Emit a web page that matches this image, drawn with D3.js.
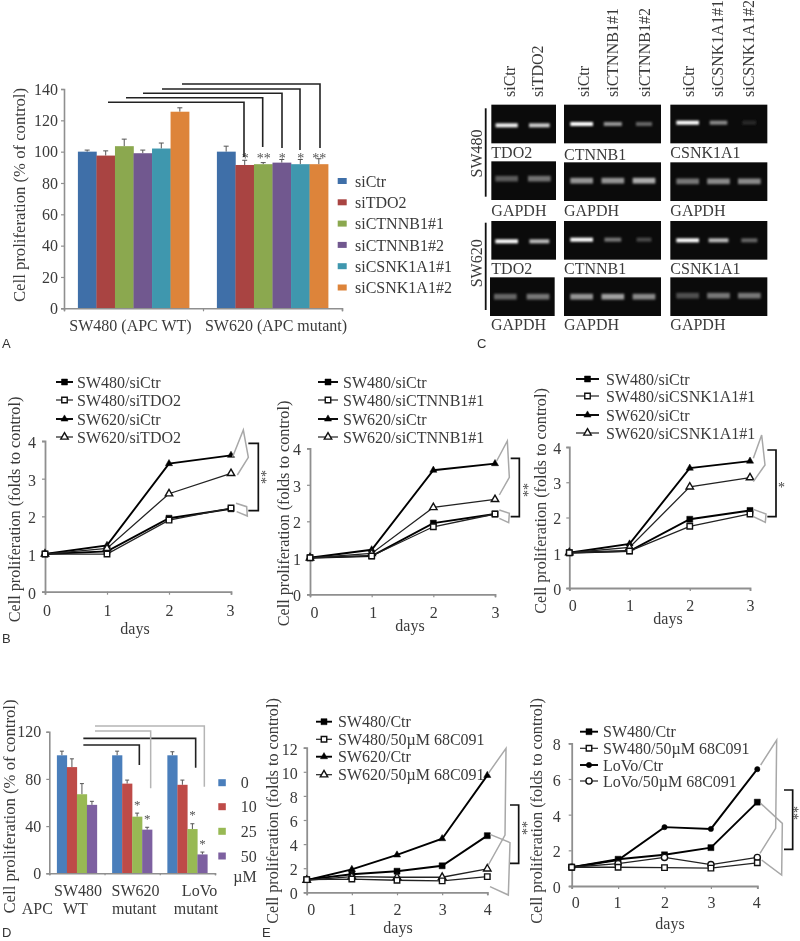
<!DOCTYPE html>
<html><head><meta charset="utf-8">
<script src="https://cdn.jsdelivr.net/npm/d3@7"></script>
<style>
html,body{margin:0;padding:0;background:#fff}
svg{display:block;opacity:.999}
text{font-family:"Liberation Serif",serif;fill:#3a3a3a;font-size:16px}
</style></head><body>
<svg id="c" width="800" height="941" viewBox="0 0 800 941"></svg>
<script>
// ---------- DATA ----------
const aGroups = ["SW480 (APC WT)", "SW620 (APC mutant)"];
const aSeries = ["siCtr","siTDO2","siCTNNB1#1","siCTNNB1#2","siCSNK1A1#1","siCSNK1A1#2"];
const aSW480 = [100,97.5,103.5,99,102,125.5];
const aSW620 = [100,91.5,92,93,92,92];
const aSW480Top = [101,100.5,108,101,105.5,128];
const aSW620Top = [103.5,94.5,93,95,95,95.5];
const aStars = ["","*","**","*","*","**"];
const aTicks = [0,20,40,60,80,100,120,140];

const dGroups = ["SW480","SW620","LoVo"];
const dDoses = ["0","10","25","50"];
const dSW480 = [100,90,67,58];
const dSW620 = [100,76,48,37];
const dLoVo = [100,75,37.5,16];
const dSW480Top = [103.5,97,76,61];
const dSW620Top = [103.5,79,51,39];
const dLoVoTop = [103,79,42,18];
const dStars = ["","","*","*"];
const dTicks = [0,40,80,120];

const days3 = [0,1,2,3];
const days4 = [0,1,2,3,4];
const b1a = [1,1.07,1.95,2.2], b1b = [1,1.0,1.9,2.22], b1c = [1,1.23,3.4,3.62], b1d = [1,1.15,2.6,3.14];
const b2a = [1,1.05,1.95,2.2], b2b = [1,1.05,1.85,2.2], b2c = [1,1.22,3.4,3.58], b2d = [1,1.12,2.38,2.6];
const b3a = [1,1.05,1.95,2.2], b3b = [1,1.05,1.75,2.1], b3c = [1,1.25,3.4,3.6], b3d = [1,1.15,2.87,3.13];
const e1a = [1.05,1.5,1.75,2.2,4.7], e1b = [1.05,1.1,1.0,0.95,1.3], e1c = [1,1.9,3.1,4.45,9.7], e1d = [1,1.3,1.25,1.25,1.95];
const e2a = [1.05,1.5,1.75,2.15,4.7], e2b = [1.05,1.05,1.03,1.0,1.3], e2c = [1.05,1.45,3.3,3.2,6.55], e2d = [1.05,1.25,1.6,1.2,1.6];
const b1Names = ["SW480/siCtr","SW480/siTDO2","SW620/siCtr","SW620/siTDO2"];
const b2Names = ["SW480/siCtr","SW480/siCTNNB1#1","SW620/siCtr","SW620/siCTNNB1#1"];
const b3Names = ["SW480/siCtr","SW480/siCSNK1A1#1","SW620/siCtr","SW620/siCSNK1A1#1"];
const e1Names = ["SW480/Ctr","SW480/50µM 68C091","SW620/Ctr","SW620/50µM 68C091"];
const e2Names = ["SW480/Ctr","SW480/50µM 68C091","LoVo/Ctr","LoVo/50µM 68C091"];

const gelLaneLabels = [["siCtr","siTDO2"],["siCtr","siCTNNB1#1","siCTNNB1#2"],["siCtr","siCSNK1A1#1","siCSNK1A1#2"]];
const gelTargets = ["TDO2","CTNNB1","CSNK1A1"];
const gelCells = ["SW480","SW620"];
const gelIntensity = [
  [[.95,.8],[1,.55,.35],[1,.5,.1]],
  [[.3,.4],[.55,.55,.65],[.42,.5,.5]],
  [[1,.72],[1,.42,.22],[1,.72,.35]],
  [[.35,.42],[.55,.6,.5],[.25,.42,.42]]
];

// ---------- STYLE / LAYOUT ----------
const svg = d3.select("#c");
const Z = (ox,oy,pts)=>pts.map(p=>[ox+p[0]/3,oy+p[1]/3]);
const axisGray="#8f8f8f";
const aColors=["#3f6fa8","#a94442","#8ba84f","#71588f","#3f97ae","#dd843a"];
const dColors=["#4a7ebb","#be4b48","#98b954","#7d60a0"];
const defs=svg.append("defs");
defs.append("filter").attr("id","blur").attr("x","-30%").attr("y","-200%").attr("width","160%").attr("height","500%")
  .append("feGaussianBlur").attr("stdDeviation","1.1 0.9");

function txt(x,y,s,o={}){
  const t=svg.append("text").attr("x",x).attr("y",y).attr("dy",o.dy||".35em").text(s);
  if(o.anchor)t.attr("text-anchor",o.anchor);
  if(o.rot)t.attr("transform",`rotate(${o.rot} ${x} ${y})`);
  if(o.size)t.style("font-size",o.size+"px");
  if(o.fill)t.style("fill",o.fill);
  if(o.font)t.style("font-family",o.font);
  return t;
}
function poly(pts,color,w){
  svg.append("path").attr("d",d3.line()(pts)).attr("fill","none").attr("stroke",color).attr("stroke-width",w);
}
function styleAxis(g,w=1.6){
  g.selectAll("path.domain").attr("stroke",axisGray).attr("stroke-width",w);
  g.selectAll("line").attr("stroke",axisGray).attr("stroke-width",1.2);
  g.selectAll("text").style("font-size","16px");
}
function panelLetter(x,y,s){txt(x,y,s,{font:'"Liberation Sans",sans-serif',size:13,fill:"#333"});}

// ---------- PANEL A ----------
(function(){
  const y=d3.scaleLinear().domain([0,140]).range([308.3,89]);
  const x=d3.scaleBand().domain(aGroups).range([64,342]).paddingInner(.2).paddingOuter(.1);
  const xi=d3.scaleBand().domain(aSeries).range([0,x.bandwidth()]);
  const groups=[[aSW480,aSW480Top],[aSW620,aSW620Top]];
  groups.forEach((g,gi)=>{
    const x0=x(aGroups[gi]);
    aSeries.forEach((s,i)=>{
      const bx=x0+xi(s);
      svg.append("line").attr("x1",bx+xi.bandwidth()/2).attr("x2",bx+xi.bandwidth()/2).attr("y1",y(g[0][i])).attr("y2",y(g[1][i])).attr("stroke","#555").attr("stroke-width",1);
      svg.append("line").attr("x1",bx+xi.bandwidth()/2-2.5).attr("x2",bx+xi.bandwidth()/2+2.5).attr("y1",y(g[1][i])).attr("y2",y(g[1][i])).attr("stroke","#555").attr("stroke-width",1);
      svg.append("rect").attr("x",bx).attr("y",y(g[0][i])).attr("width",xi.bandwidth()+.3).attr("height",y(0)-y(g[0][i])).attr("fill",aColors[i]);
      if(gi===1&&aStars[i]) txt(bx+xi.bandwidth()/2+.5,y(97.5),aStars[i],{anchor:"middle",dy:".5em",size:14,fill:"#555"});
    });
  });
  const ga=svg.append("g").attr("transform","translate(64,0)").call(d3.axisLeft(y).tickValues(aTicks).tickSize(3).tickPadding(3));
  styleAxis(ga);
  const b=d3.scaleLinear().domain([0,2]).range([64,342]);
  const gb=svg.append("g").attr("transform","translate(0,308.3)").call(d3.axisBottom(b).tickValues([0,1,2]).tickSize(3).tickFormat(""));
  styleAxis(gb);
  txt(x(aGroups[0])+x.bandwidth()/2-3,325.7,aGroups[0],{anchor:"middle"});
  txt(x(aGroups[1])+x.bandwidth()/2+3.5,325.7,aGroups[1],{anchor:"middle"});
  txt(19,195,"Cell proliferation (% of control)",{anchor:"middle",rot:-90,size:16.7});
  aSeries.forEach((s,i)=>{
    const ly=181+i*21.3;
    svg.append("rect").attr("x",337.7).attr("y",ly-3).attr("width",9).attr("height",6).attr("fill",aColors[i]);
    txt(355,ly,s);
  });
  [[[108,102.3],[244,102.3],[244,157]],[[126,97.7],[262.7,97.7],[262.7,147]],[[143,93.3],[282,93.3],[282,148]],[[162,89],[300,89],[300,150]],[[182,84],[320,84],[320,148]]]
   .forEach(p=>poly(p,"#222",1.6));
  panelLetter(2,343,"A");
})();

// ---------- PANEL C (gels) ----------
(function(){
  const cols=[{x:94,w:194},{x:312,w:291},{x:631,w:291}];
  const rows=[[314,314,314],[484,487,487],[663,663,663],[832,832,832]];
  const colXAdj=[[0,0,0],[0,0,0],[0,0,0],[-4,0,0]];
  const h=116;
  const bandY=[[376,372,368],[536,542,544],[724,719,721],[890,890,887]];
  const bandH=[12,17,12,17];
  const laneC=[d3.scalePoint().domain(d3.range(2)).range([140,238]),d3.scalePoint().domain(d3.range(3)).range([365,552]),d3.scalePoint().domain(d3.range(3)).range([683,868])];
  const ox=460,s=v=>v/3;
  const glow=d3.scaleLinear().domain([0,1]).range([20,255]);
  gelIntensity.forEach((row,r)=>row.forEach((lanes,c)=>{
    const X=ox+s(cols[c].x+colXAdj[r][c]),Y=s(rows[r][c]);
    svg.append("rect").attr("x",X).attr("y",Y).attr("width",s(cols[c].w)).attr("height",s(h)).attr("fill","#0b0b0b");
    lanes.forEach((v,l)=>{
      const w=68*(r%2===0?(.55+.45*v):1);
      const cx=ox+s(laneC[c](l)+colXAdj[r][c]);
      const g=Math.round(glow(v));
      svg.append("rect").attr("x",cx-s(w)/2).attr("y",s(bandY[r][c])-s(bandH[r])/2).attr("width",s(w)).attr("height",s(bandH[r]))
        .attr("fill",`rgb(${g},${g},${g})`).attr("filter","url(#blur)");
    });
    const labelY=[152.7,210.5,268.5,324][r]+(r===0&&c===1?1.3:0);
    const label=r%2===0?gelTargets[c]:"GAPDH";
    txt(X-(r===3&&c===0?-1:0),labelY,label);
  }));
  const laneLabelX=[[147,233],[370,457,552],[684,772,864]];
  gelLaneLabels.forEach((ls,c)=>ls.forEach((t,i)=>{
    const x=ox+s(laneLabelX[c][i]);
    txt(x,97,t,{rot:-90});
  }));
  gelCells.forEach((t,i)=>{
    const cy=[153.5,263.3][i];
    txt(476,cy,t,{anchor:"middle",rot:-90});
    poly([[485.7,[108.3,222.7][i]],[485.7,[196.7,310][i]]],"#111",1.8);
  });
  panelLetter(477,343,"C");
})();

// ---------- LINE CHARTS ----------
const mSquare=d3.symbol().type(d3.symbolSquare).size(36)();
const mSquareOpen=d3.symbol().type(d3.symbolSquare).size(30)();
const mTri=d3.symbol().type(d3.symbolTriangle).size(22)();
const mTriOpen=d3.symbol().type(d3.symbolTriangle).size(24)();
const mCirc=d3.symbol().type(d3.symbolCircle).size(22)();
const mCircOpen=d3.symbol().type(d3.symbolCircle).size(30)();
function marker(g,x,y,kind){
  const map={sf:[mSquare,"#000","#000"],so:[mSquareOpen,"#fff","#111"],tf:[mTri,"#000","#000"],to:[mTriOpen,"#fff","#111"],cf:[mCirc,"#000","#000"],co:[mCircOpen,"#fff","#111"]}[kind];
  g.append("path").attr("d",map[0]).attr("transform",`translate(${x},${y})`).attr("fill",map[1]).attr("stroke",map[2]).attr("stroke-width",kind[1]==="o"?1.4:.5);
}
function lineChart(c){
  const x=d3.scaleLinear().domain([0,c.days[c.days.length-1]]).range(c.xr);
  const y=d3.scaleLinear().domain([0,c.yMax]).range(c.yr);
  const ga=svg.append("g").attr("transform",`translate(${c.xr[0]},0)`).call(d3.axisLeft(y).tickValues(d3.range(0,c.yMax+1,c.yStep)).tickSize(3).tickPadding(c.yPad).tickFormat(d3.format("d")));
  styleAxis(ga,1.8);
  const gb=svg.append("g").attr("transform",`translate(0,${c.yr[0]})`).call(d3.axisBottom(x).tickValues(c.days).tickSize(3).tickPadding(c.xPad).tickFormat(d3.format("d")));
  styleAxis(gb,1.8);
  gb.selectAll(".tick text").attr("dx",(d,i)=>c.xDx[i]);
  ga.selectAll(".tick text").attr("dy",c.yDy||".4em");
  const g=svg.append("g");
  const line=d3.line().x((d,i)=>x(c.days[i])).y(d=>y(d));
  const order=[2,0,3,1];
  order.forEach(i=>{
    const filled=c.kinds[i][1]==="f";
    g.append("path").attr("d",line(c.series[i])).attr("fill","none").attr("stroke",filled?"#000":"#222").attr("stroke-width",filled?1.9:1.3);
  });
  order.forEach(i=>c.series[i].forEach((v,k)=>marker(g,x(c.days[k]),y(v),c.kinds[i])));
  c.names.forEach((n,i)=>{
    const ly=c.legY[i];
    const filled=c.kinds[i][1]==="f";
    poly([[c.legX[0],ly],[c.legX[1],ly]],filled?"#000":"#222",filled?1.9:1.2);
    marker(svg,(c.legX[0]+c.legX[1])/2,ly,c.kinds[i]);
    txt(c.legX[2],ly,n);
  });
  txt(c.ylab[0],c.ylab[1],"Cell proliferation (folds to control)",{anchor:"middle",rot:-90,size:16.2});
  txt(c.dayl[0],c.dayl[1],"days",{anchor:"middle"});
  c.gray.forEach(p=>poly(p,"#a8a8a8",1.5));
  poly(c.bracket,"#111",1.7);
  txt(c.star[0],c.star[1],c.star[2],{anchor:"middle",rot:c.star[3],dy:".55em",size:14,fill:"#444"});
}
const kB=["sf","so","tf","to"], kE2=["sf","so","cf","co"];
lineChart({days:days3,yMax:4,yStep:1,xr:[45,231],yr:[591.7,441],yPad:6,xPad:10,xDx:[1.5,0,0,-1],series:[b1a,b1b,b1c,b1d],kinds:kB,names:b1Names,
  legX:[56,73,77],legY:[382,400,419,437],ylab:[14,509.5],dayl:[135,628],
  gray:[Z(0,360,[[698,290],[730,210],[745,292],[712,345]]),Z(0,360,[[708,430],[740,440],[742,468],[710,455]])],
  bracket:Z(0,360,[[745,250],[775,250],[775,452],[745,452]]),star:[263.5,477,"**",-90]});
lineChart({days:days3,yMax:4,yStep:1,xr:[310,495],yr:[594.3,448.3],yPad:6,xPad:9,xDx:[4,1,0,0],series:[b2a,b2b,b2c,b2d],kinds:kB,names:b2Names,
  legX:[318,338,343],legY:[382,400,419,437],ylab:[283,513.5],dayl:[410,625],
  gray:[Z(400,360,[[290,303],[322,243],[328,352],[298,405]]),Z(400,360,[[298,450],[328,460],[326,488],[298,475]])],
  bracket:Z(400,360,[[332,295],[358,295],[358,470],[332,470]]),star:[525.5,490,"**",-90]});
lineChart({days:days3,yMax:4,yStep:1,xr:[569.3,750],yr:[588,447],yPad:5,xPad:9,xDx:[3,0,0,0],series:[b3a,b3b,b3c,b3d],kinds:kB,names:b3Names,
  legX:[576,599,606],legY:[379,396,415,433],ylab:[540,501],dayl:[668,618],
  gray:[Z(400,360,[[1060,295],[1085,225],[1095,315],[1060,365]]),Z(400,360,[[1060,448],[1098,462],[1096,487],[1060,470]])],
  bracket:Z(400,360,[[1102,270],[1128,270],[1128,470],[1102,470]]),star:[781.5,484,"*",0]});
lineChart({days:days4,yMax:12,yStep:2,xr:[306.7,487.3],yr:[892.3,747.7],yPad:6,xPad:8,xDx:[4,0,0,0,0],series:[e1a,e1b,e1c,e1d],kinds:kB,names:e1Names,
  legX:[316,332,338],legY:[721.7,739.3,756.7,774.7],ylab:[272,811],dayl:[398,927],
  gray:[Z(280,670,[[625,310],[678,235],[675,495],[625,585]]),Z(280,670,[[630,493],[690,518],[685,675],[630,650]])],
  bracket:Z(280,670,[[690,405],[716,405],[716,580],[690,580]]),star:[524.5,828,"**",-90]});
lineChart({days:days4,yMax:8,yStep:2,xr:[571.7,757.3],yr:[886,743.3],yPad:8,xPad:8,xDx:[3.5,-1,0,0,-1],series:[e2a,e2b,e2c,e2d],kinds:kE2,names:e2Names,
  legX:[580,598,603],legY:[731.7,748.3,765,781],ylab:[536,811],dayl:[670,923],
  gray:[Z(530,670,[[692,285],[740,210],[737,475],[690,550]]),Z(530,670,[[692,400],[757,460],[755,615],[695,570]])],
  bracket:Z(530,670,[[762,360],[788,360],[788,538],[762,538]]),star:[795,813,"**",-90]});
panelLetter(2,638,"B");

// ---------- PANEL D ----------
(function(){
  const y=d3.scaleLinear().domain([0,120]).range([873.3,731.7]);
  const x=d3.scaleBand().domain(dGroups).range([49.3,215]).paddingInner(.275).paddingOuter(.1375);
  const xi=d3.scaleBand().domain(dDoses).range([0,x.bandwidth()]);
  [[dSW480,dSW480Top],[dSW620,dSW620Top],[dLoVo,dLoVoTop]].forEach((g,gi)=>{
    const x0=x(dGroups[gi]);
    dDoses.forEach((s,i)=>{
      const bx=x0+xi(s),cx=bx+xi.bandwidth()/2;
      svg.append("line").attr("x1",cx).attr("x2",cx).attr("y1",y(g[0][i])).attr("y2",y(g[1][i])).attr("stroke","#555").attr("stroke-width",1);
      svg.append("line").attr("x1",cx-2).attr("x2",cx+2).attr("y1",y(g[1][i])).attr("y2",y(g[1][i])).attr("stroke","#555").attr("stroke-width",1);
      svg.append("rect").attr("x",bx).attr("y",y(g[0][i])).attr("width",xi.bandwidth()+.2).attr("height",y(0)-y(g[0][i])).attr("fill",dColors[i]);
      if(gi>0&&dStars[i]) txt(cx,y(g[1][i])-11,dStars[i],{anchor:"middle",dy:".5em",size:13,fill:"#555"});
    });
  });
  const ga=svg.append("g").attr("transform","translate(49.3,0)").call(d3.axisLeft(y).tickValues(dTicks).tickSize(3).tickPadding(5));
  styleAxis(ga);
  const b=d3.scaleLinear().domain([0,3]).range([49.3,215]);
  const gb=svg.append("g").attr("transform","translate(0,873.3)").call(d3.axisBottom(b).tickValues([0,1,2,3]).tickSize(2).tickFormat(""));
  styleAxis(gb);
  txt(78,890,"SW480",{anchor:"middle"});
  txt(135.5,890,"SW620",{anchor:"middle"});
  txt(199.5,890,"LoVo",{anchor:"middle"});
  txt(21.7,908,"APC");
  txt(63,908,"WT");
  txt(112,908,"mutant");
  txt(173.7,908,"mutant");
  txt(9,806.5,"Cell proliferation (% of control)",{anchor:"middle",rot:-90,size:16.7});
  dDoses.forEach((s,i)=>{
    const ly=[782.7,806.7,831.3,856][i];
    svg.append("rect").attr("x",218.3).attr("y",ly-3.5).attr("width",7.5).attr("height",7).attr("fill",dColors[i]);
    txt(240.7,ly,s);
  });
  txt(233.3,876.7,"µM");
  const pz=p=>Z(0,680,p);
  poly(pz([[250,195],[418,195],[418,255]]),"#222",1.6);
  poly(pz([[250,175],[587,175],[587,263]]),"#222",1.6);
  poly(pz([[285,153],[452,153],[452,325]]),"#b5b5b5",1.5);
  poly(pz([[285,138],[613,138],[613,320]]),"#b5b5b5",1.5);
  panelLetter(2,932,"D");
  panelLetter(262,932,"E");
})();
</script>
</body></html>
